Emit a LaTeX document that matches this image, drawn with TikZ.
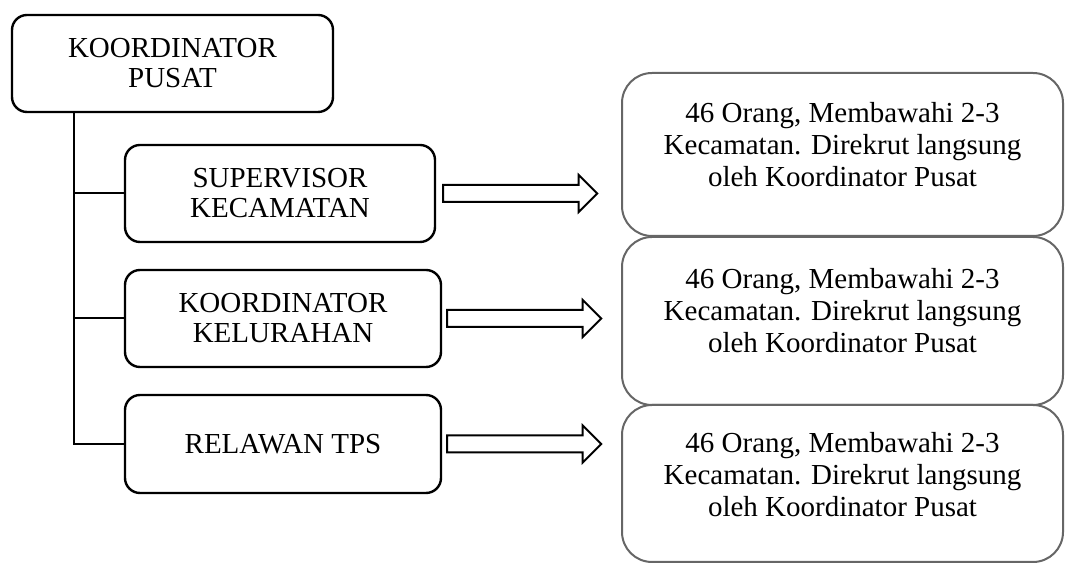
\documentclass[tikz,border=0pt]{standalone}
\usepackage{fontspec}
\setmainfont{Liberation Serif}
\usetikzlibrary{positioning,shapes.arrows}
\tikzstyle{unit}=[draw, line width=1.2pt, rounded corners=7.5pt, align=center, inner sep=0pt, font=\fontsize{14.5}{15}\selectfont]
\tikzstyle{infobox}=[draw=black!60, line width=1pt, rounded corners=15pt, minimum width=220.5pt, inner sep=0pt]
\tikzstyle{infotext}=[align=center, inner sep=0pt, font=\fontsize{14.5}{16}\selectfont]
\tikzstyle{link}=[line width=1pt]
\tikzstyle{hollow}=[draw, line width=1pt, single arrow, single arrow head extend=5pt, inner xsep=0pt, inner ysep=3.75pt, minimum height=77pt]

\begin{document}
\begin{tikzpicture}[x=0.5pt, y=-0.5pt]
\useasboundingbox (0,0) rectangle (1065,565);
% Units
    \node[unit, minimum width=160.5pt, minimum height=48.5pt] (pusat) at (172.5,63.5) {KOORDINATOR\\PUSAT};
    \node[unit, minimum width=155pt, minimum height=48.5pt] (sup) at (280,193.5) {SUPERVISOR\\KECAMATAN};
    \node[unit, minimum width=158pt, minimum height=48.5pt] (kel) at (283,318.5) {KOORDINATOR\\KELURAHAN};
    \node[unit, minimum width=158pt, minimum height=49pt] (tps) at (283,444) {RELAWAN TPS};
% Tree lines
    \draw[link] (pusat.south west) ++(63,0) coordinate (trunk) -- (trunk |- tps.west) -- (tps.west);
    \draw[link] (trunk |- sup.west) -- (sup.west);
    \draw[link] (trunk |- kel.west) -- (kel.west);
% Descriptions
    \node[infobox, minimum height=81.5pt] (info1) at (842.5,154.5) {};
    \node[infobox, minimum height=84pt] (info2) at (842.5,321) {};
    \node[infobox, minimum height=78.5pt] (info3) at (842.5,483.5) {};
    \node[infotext, below=15pt of info1.north] (txt1) {46 Orang, Membawahi 2-3\\Kecamatan. Direkrut langsung\\oleh Koordinator Pusat};
    \node[infotext, below=16pt of info2.north] (txt2) {46 Orang, Membawahi 2-3\\Kecamatan. Direkrut langsung\\oleh Koordinator Pusat};
    \node[infotext, below=14pt of info3.north] (txt3) {46 Orang, Membawahi 2-3\\Kecamatan. Direkrut langsung\\oleh Koordinator Pusat};
% Arrows
    \node[hollow, right=3pt of sup] (arr1) {};
    \node[hollow, right=2pt of kel] (arr2) {};
    \node[hollow, right=2pt of tps] (arr3) {};
\end{tikzpicture}
\end{document}
